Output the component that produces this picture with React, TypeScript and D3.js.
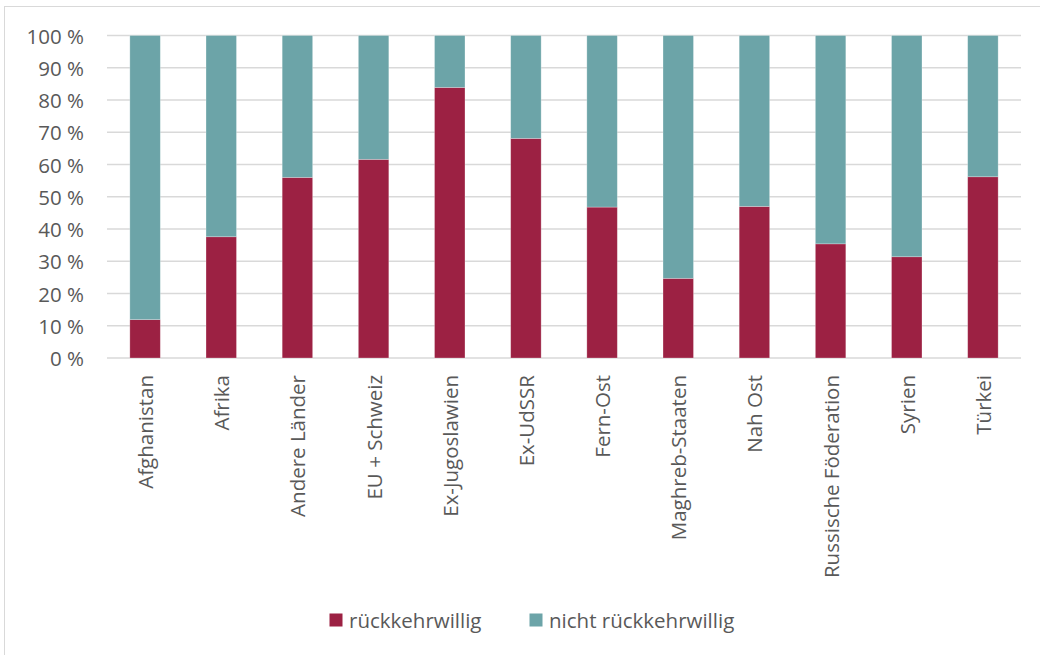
import React from "react";
import * as d3 from "d3";

const categories = [
  "Afghanistan",
  "Afrika",
  "Andere Länder",
  "EU + Schweiz",
  "Ex-Jugoslawien",
  "Ex-UdSSR",
  "Fern-Ost",
  "Maghreb-Staaten",
  "Nah Ost",
  "Russische Föderation",
  "Syrien",
  "Türkei",
];
const rueckkehrwillig = [11.9, 37.6, 56.0, 61.6, 83.9, 68.1, 46.8, 24.7, 47.0, 35.4, 31.4, 56.2];
const nichtRueckkehrwillig = rueckkehrwillig.map((v) => 100 - v);
const yTicks = [0, 10, 20, 30, 40, 50, 60, 70, 80, 90, 100];
const seriesNames = ["rückkehrwillig", "nicht rückkehrwillig"];
const seriesColors = ["#9C2143", "#6CA4A8"];

const W = 1040;
const H = 655;
const FONT = "'Open Sans', sans-serif";
const TEXT = "#595959";
const FS = 20.5;

export default function App() {
  const x = d3
    .scaleBand<string>()
    .domain(categories)
    .range([107, 1021])
    .paddingInner(0.6)
    .paddingOuter(0.3);
  const y = d3.scaleLinear().domain([0, 100]).range([358, 35.5]);

  const stackData = categories.map((c, i) => ({
    cat: c,
    a: rueckkehrwillig[i],
    b: nichtRueckkehrwillig[i],
  }));
  const stack = d3.stack<any>().keys(["a", "b"])(stackData);

  return (
    <svg
      width={W}
      height={H}
      style={{ position: "absolute", left: 0, top: 0, background: "#fff" }}
      fontFamily={FONT}
    >
      <rect x={4.5} y={6.5} width={1100} height={700} fill="#fff" stroke="#D9D9D9" strokeWidth={1} />
      {yTicks.map((t) => (
        <g key={t}>
          <line x1={107} x2={1021} y1={y(t)} y2={y(t)} stroke="#D9D9D9" strokeWidth={1.5} />
          <text
            x={84}
            y={y(t)}
            textAnchor="end"
            dominantBaseline="central"
            fontSize={FS}
            fill={TEXT}
          >
            {t} %
          </text>
        </g>
      ))}
      {stack.map((s, si) => (
        <g key={si} fill={seriesColors[si]}>
          {s.map((d: any, i: number) => (
            <rect
              key={i}
              x={x(categories[i])}
              width={x.bandwidth()}
              y={y(d[1])}
              height={y(d[0]) - y(d[1])}
              stroke="#ffffff"
              strokeOpacity={0.35}
              strokeWidth={0.75}
            />
          ))}
        </g>
      ))}
      {categories.map((c) => (
        <text
          key={c}
          transform={`translate(${(x(c) ?? 0) + x.bandwidth() / 2},375) rotate(-90)`}
          textAnchor="end"
          dominantBaseline="central"
          fontSize={FS}
          fill={TEXT}
        >
          {c}
        </text>
      ))}
      {seriesNames.map((n, i) => (
        <g key={n} transform={`translate(${i === 0 ? 329.5 : 529.5},613.5)`}>
          <rect width={13} height={13} fill={seriesColors[i]} />
          <text x={19.5} y={6.5} dominantBaseline="central" fontSize={FS} fill={TEXT}>
            {n}
          </text>
        </g>
      ))}
    </svg>
  );
}
